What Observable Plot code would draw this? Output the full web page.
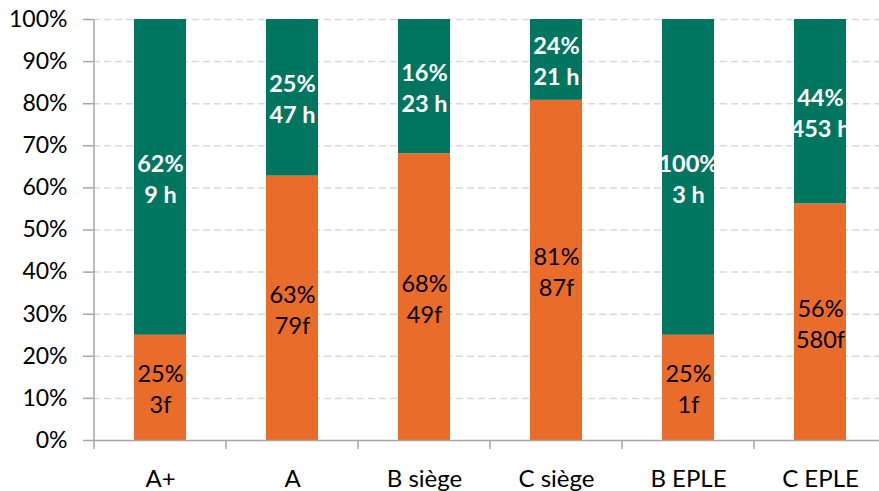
<!DOCTYPE html>
<html><head><meta charset="utf-8">
<script src="https://cdn.jsdelivr.net/npm/d3@7"></script>
<script src="https://cdn.jsdelivr.net/npm/@observablehq/plot@0.6"></script>
<style>
html,body{margin:0;padding:0;background:#fff;overflow:hidden}
#chart{width:879px;height:491px}
</style></head><body><div id="chart"></div>
<script>
const categories = ["A+", "A", "B siège", "C siège", "B EPLE", "C EPLE"];
const fShare = [25, 62.8, 68.1, 80.8, 25, 56.2];
const hShare = [75, 37.2, 31.9, 19.2, 75, 43.8];
const fPct = ["25%", "63%", "68%", "81%", "25%", "56%"];
const fCount = ["3f", "79f", "49f", "87f", "1f", "580f"];
const hPct = ["62%", "25%", "16%", "24%", "100%", "44%"];
const hHours = ["9 h", "47 h", "23 h", "21 h", "3 h", "453 h"];
const yTicks = [0, 10, 20, 30, 40, 50, 60, 70, 80, 90, 100];
const gridTicks = [10, 20, 30, 40, 50, 60, 70, 80, 90, 100];

const rows = categories.flatMap((c, i) => [
  {cat: c, series: "f", value: fShare[i], label: fPct[i] + "\n" + fCount[i]},
  {cat: c, series: "h", value: hShare[i], label: hPct[i] + "\n" + hHours[i]}
]);

const LABEL = 23.5;
const AXISFONT = 23;
const AXIS = "#a6a6a6";
const chart = Plot.plot({
  width: 879, height: 491,
  marginTop: 19, marginBottom: 51, marginLeft: 93, marginRight: 0,
  style: {fontFamily: "Lato, sans-serif", background: "white", overflow: "visible"},
  x: {domain: categories, range: [93, 888], paddingInner: 0.604, paddingOuter: 0.302, label: null},
  y: {domain: [0, 100], label: null},
  color: {domain: ["f", "h"], range: ["#EA6C2A", "#00755F"]},
  marks: [
    Plot.gridY(gridTicks, {stroke: "#d9d9d9", strokeOpacity: 1, strokeWidth: 1.5, strokeDasharray: "7,4"}),
    Plot.barY(rows, {x: "cat", y: "value", z: "series", fill: "series"}),
    Plot.text(rows, Plot.stackY({x: "cat", y: "value", z: "series",
      text: d => d.series === "f" ? d.label : null,
      fill: "black", fontSize: LABEL, lineHeight: 31 / LABEL})),
    Plot.text(rows, Plot.stackY({x: "cat", y: "value", z: "series",
      text: d => d.series === "h" ? d.label : null,
      fill: "white", fontWeight: "bold", fontSize: LABEL, lineHeight: 31 / LABEL})),
    Plot.axisY({ticks: yTicks, tickFormat: d => d + "%", tickSize: 10, tickPadding: 16,
      stroke: AXIS, strokeWidth: 1.5, fill: "black", fontSize: AXISFONT}),
    Plot.axisX({tickSize: 0, tickPadding: 29, fill: "black", fontSize: 24}),
    Plot.ruleY([0], {stroke: AXIS, strokeWidth: 1.5})
  ]
});

document.getElementById("chart").appendChild(chart);

// axis line and category separator ticks, positioned from Plot's scales
const xs = chart.scale("x"), ys = chart.scale("y");
const step = xs.step ?? (xs.range[1] - xs.range[0]) / categories.length;
const bw = xs.bandwidth ?? step * 0.396;
const gap = (step - bw) / 2;
const bounds = categories.map(c => xs.apply(c) - gap);
bounds.push(xs.apply(categories[categories.length - 1]) + bw + gap);
const y0 = ys.apply(0), yTop = ys.apply(100);
const g = d3.select(chart).append("g").attr("stroke", AXIS).attr("stroke-width", 1.5);
g.append("line").attr("x1", bounds[0]).attr("x2", bounds[0]).attr("y1", yTop).attr("y2", y0);
g.selectAll("line.sep").data(bounds).join("line").attr("class", "sep")
  .attr("x1", d => d).attr("x2", d => d).attr("y1", y0).attr("y2", y0 + 9);
</script></body></html>
